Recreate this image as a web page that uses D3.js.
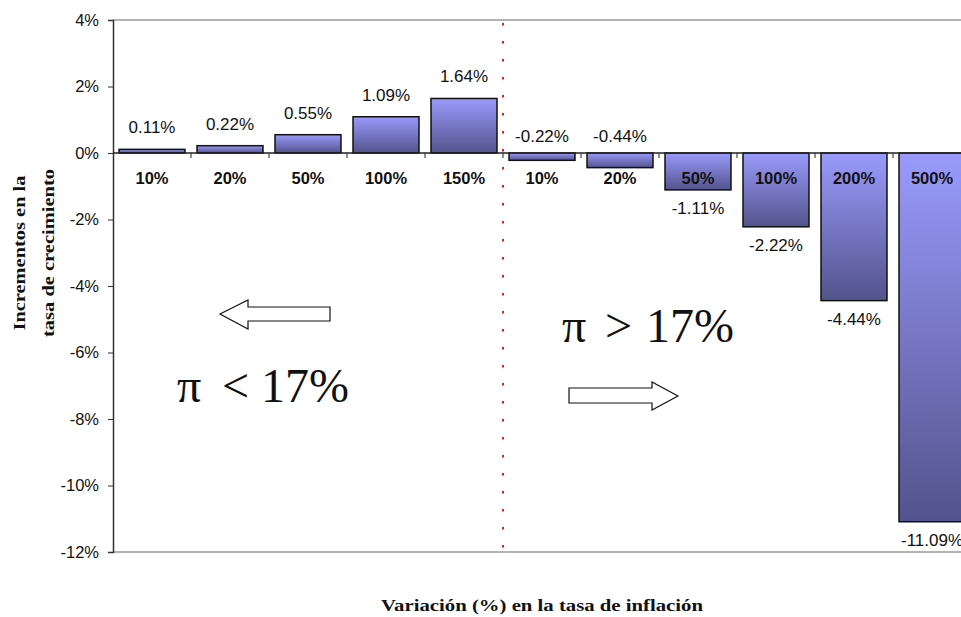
<!DOCTYPE html>
<html>
<head>
<meta charset="utf-8">
<script src="https://cdn.jsdelivr.net/npm/d3@7"></script>
<style>
  body { margin: 0; background: #fff; }
  svg { display: block; }
</style>
</head>
<body>
<div id="chart"></div>
<script>
// categories (inflation variation) and growth increments, in %
var categories = ["10%", "20%", "50%", "100%", "150%", "10%", "20%", "50%", "100%", "200%", "500%"];
var values = [0.11, 0.22, 0.55, 1.09, 1.64, -0.22, -0.44, -1.11, -2.22, -4.44, -11.09];
var valueLabels = ["0.11%", "0.22%", "0.55%", "1.09%", "1.64%", "-0.22%", "-0.44%", "-1.11%", "-2.22%", "-4.44%", "-11.09%"];
var yTicks = [4, 2, 0, -2, -4, -6, -8, -10, -12];
// the red separator sits between category 4 and 5
var splitAfter = 4;

var width = 961, height = 617;
var margin = { top: 20, right: -10, bottom: 65, left: 113 };

var sans = "'Liberation Sans', Arial, sans-serif";
var serif = "'Liberation Serif', 'Times New Roman', serif";

var svg = d3.select("#chart").append("svg")
  .attr("width", width)
  .attr("height", height);

var defs = svg.append("defs");
var grad = defs.append("linearGradient")
  .attr("id", "barGrad")
  .attr("x1", 0).attr("y1", 0).attr("x2", 0).attr("y2", 1);
grad.append("stop").attr("offset", "0%").attr("stop-color", "#9a9afc");
grad.append("stop").attr("offset", "100%").attr("stop-color", "#53538c");

var x = d3.scaleBand()
  .domain(d3.range(categories.length))
  .range([margin.left, width - margin.right])
  .paddingInner(0.154)
  .paddingOuter(0.077);

var y = d3.scaleLinear()
  .domain([-12, 4])
  .range([height - margin.bottom, margin.top]);

var plotRight = width - margin.right;

// top and bottom frame lines
svg.append("line")
  .attr("x1", margin.left).attr("x2", plotRight)
  .attr("y1", y(4)).attr("y2", y(4))
  .attr("stroke", "#9a9a9a").attr("stroke-width", 1.5);
svg.append("line")
  .attr("x1", margin.left).attr("x2", plotRight)
  .attr("y1", y(-12)).attr("y2", y(-12))
  .attr("stroke", "#9a9a9a").attr("stroke-width", 1.5);

// y axis
var yAxis = svg.append("g")
  .attr("transform", "translate(" + margin.left + ",0)")
  .call(d3.axisLeft(y).tickValues(yTicks).tickSize(5).tickFormat(function(d) { return d + "%"; }));
yAxis.select(".domain").attr("stroke", "#333").attr("stroke-width", 1.5);
yAxis.selectAll(".tick line").attr("stroke", "#333");
yAxis.selectAll("text")
  .attr("x", -14)
  .style("font-family", sans)
  .style("font-size", "16.5px")
  .attr("fill", "#111");

// bars
svg.selectAll(".bar")
  .data(values)
  .enter().append("rect")
  .attr("class", "bar")
  .attr("x", function(d, i) { return x(i); })
  .attr("y", function(d) { return y(Math.max(0, d)); })
  .attr("width", x.bandwidth())
  .attr("height", function(d) { return Math.abs(y(d) - y(0)); })
  .attr("fill", "url(#barGrad)")
  .attr("stroke", "#111")
  .attr("stroke-width", 1.5);

// zero line with category ticks
svg.append("line")
  .attr("x1", margin.left).attr("x2", plotRight)
  .attr("y1", y(0)).attr("y2", y(0))
  .attr("stroke", "#222").attr("stroke-width", 1.5);
svg.selectAll(".ztick")
  .data(d3.range(1, categories.length + 1))
  .enter().append("line")
  .attr("x1", function(i) { return margin.left + i * x.step(); })
  .attr("x2", function(i) { return margin.left + i * x.step(); })
  .attr("y1", y(0)).attr("y2", y(0) + 5)
  .attr("stroke", "#222");

// red dotted separator
var sepX = margin.left + (splitAfter + 1) * x.step();
svg.append("line")
  .attr("x1", sepX).attr("x2", sepX)
  .attr("y1", y(4) + 3).attr("y2", y(-12))
  .attr("stroke", "#ff1111")
  .attr("stroke-width", 2)
  .attr("stroke-dasharray", "2.5,15.5");

// category labels
svg.selectAll(".cat")
  .data(categories)
  .enter().append("text")
  .attr("x", function(d, i) { return x(i) + x.bandwidth() / 2; })
  .attr("y", y(0) + 31)
  .attr("text-anchor", "middle")
  .style("font-family", sans)
  .style("font-size", "16.5px")
  .style("font-weight", "bold")
  .attr("fill", "#111")
  .text(function(d) { return d; });

// value labels
svg.selectAll(".val")
  .data(values)
  .enter().append("text")
  .attr("x", function(d, i) { return x(i) + x.bandwidth() / 2; })
  .attr("y", function(d) {
    if (d >= 0) return y(d) - 16;
    // small negative bars: label stays above the axis
    if (y(d) - y(0) < 25) return y(0) - 11;
    return y(d) + 24;
  })
  .attr("text-anchor", "middle")
  .style("font-family", sans)
  .style("font-size", "17px")
  .attr("fill", "#111")
  .text(function(d, i) { return valueLabels[i]; });

// axis titles
var yTitle = svg.append("text")
  .attr("transform", "translate(33," + 253 + ") rotate(-90)")
  .attr("text-anchor", "middle")
  .style("font-family", serif)
  .style("font-size", "17px")
  .style("font-weight", "bold")
  .attr("fill", "#111");
yTitle.append("tspan").attr("x", 0).attr("dy", "-0.5em")
  .attr("textLength", 155).attr("lengthAdjust", "spacingAndGlyphs")
  .text("Incrementos en la");
yTitle.append("tspan").attr("x", 0).attr("dy", "1.75em")
  .attr("textLength", 168).attr("lengthAdjust", "spacingAndGlyphs")
  .text("tasa de crecimiento");

svg.append("text")
  .attr("x", 542)
  .attr("y", 611)
  .attr("text-anchor", "middle")
  .attr("textLength", 322)
  .attr("lengthAdjust", "spacingAndGlyphs")
  .style("font-family", serif)
  .style("font-size", "17px")
  .style("font-weight", "bold")
  .attr("fill", "#111")
  .text("Variación (%) en la tasa de inflación");

// annotations: inflation regimes
function regime(px, opX, numX, baseline, op) {
  var t = svg.append("text")
    .attr("y", baseline)
    .style("font-family", serif)
    .style("font-size", "48px")
    .attr("fill", "#111");
  t.append("tspan").attr("x", px).text("π");
  t.append("tspan").attr("x", opX).text(op);
  t.append("tspan").attr("x", numX).text("17%");
}
regime(177, 222, 261, 402, "<");
regime(562, 605, 646, 342, ">");

// block arrows
var leftArrow = [[220, 314], [248, 300], [248, 307], [330, 307], [330, 321], [248, 321], [248, 329]];
var rightArrow = [[678, 396], [652, 382], [652, 388], [569, 388], [569, 403], [652, 403], [652, 410]];
[leftArrow, rightArrow].forEach(function(pts) {
  svg.append("path")
    .attr("d", d3.line()(pts) + "Z")
    .attr("fill", "#fff")
    .attr("stroke", "#111")
    .attr("stroke-width", 1.2);
});
</script>
</body>
</html>
